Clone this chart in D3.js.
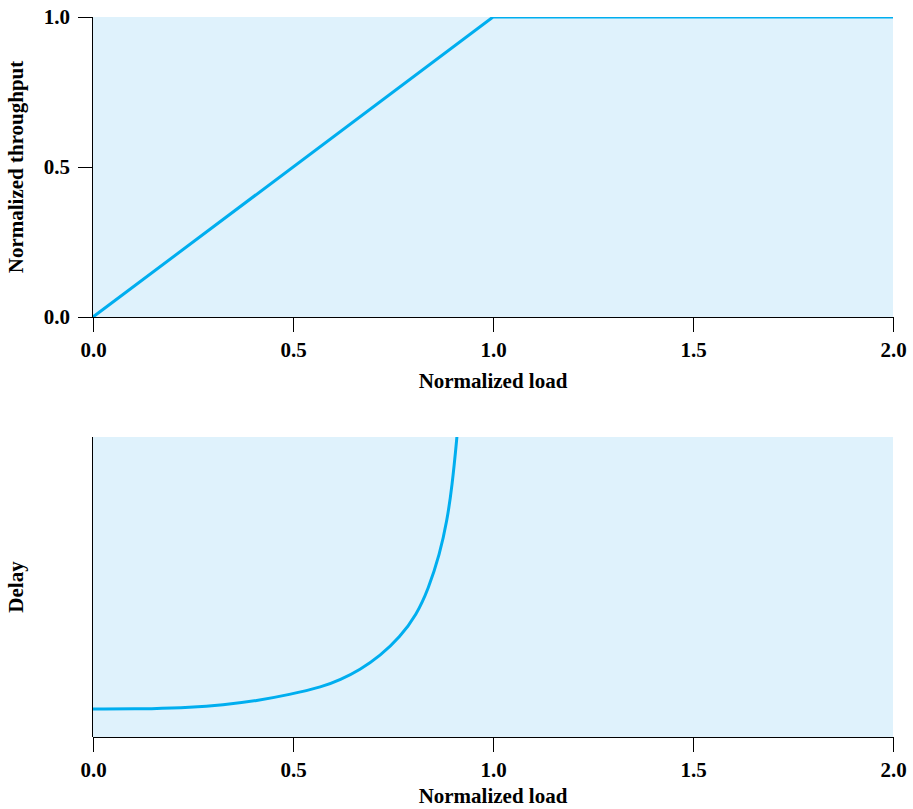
<!DOCTYPE html>
<html>
<head>
<meta charset="utf-8">
<script src="https://cdn.jsdelivr.net/npm/d3@7"></script>
<style>
  html, body { margin: 0; padding: 0; background: #fff; }
  svg { display: block; }
  text { font-family: "Liberation Serif", "Times New Roman", serif; font-weight: bold; fill: #000; }
</style>
</head>
<body>
<svg id="chart" width="913" height="809"></svg>
<script>
// ---- data ----
const xTicks = [0, 0.5, 1.0, 1.5, 2.0];
const throughputTicks = [0, 0.5, 1.0];
const throughputLoad = [0, 1.0, 2.0];
const throughputValue = [0, 1.0, 1.0];
const delayLoad = [0, 0.16, 0.24, 0.325, 0.41, 0.49, 0.575, 0.6175, 0.6675, 0.7175, 0.7675, 0.809, 0.838, 0.867, 0.885, 0.8975, 0.91, 0.915];
const delayValue = [0.93, 0.94, 0.98, 1.07, 1.21, 1.41, 1.68, 1.9, 2.24, 2.7, 3.33, 4.08, 4.92, 6.1, 7.2, 8.33, 10.0, 10.8];

const svg = d3.select("#chart");
const left = 93, right = 893;
const fontSize = 21;
const fill = "#dff2fc";
const lineColor = "#00aeef";

function panel(top, bottom, cfg) {
  const g = svg.append("g");
  const x = d3.scaleLinear().domain([0, 2]).range([left, right]);
  const y = d3.scaleLinear().domain(cfg.yDomain).range([bottom, top]);

  g.append("rect").attr("x", left).attr("y", top)
    .attr("width", right - left).attr("height", bottom - top).attr("fill", fill);

  const clipId = "clip" + top;
  svg.append("clipPath").attr("id", clipId).append("rect")
    .attr("x", left).attr("y", top).attr("width", right - left).attr("height", bottom - top);

  const pts = cfg.xs.map((d, i) => [d, cfg.ys[i]]);
  g.append("path").datum(pts)
    .attr("clip-path", `url(#${clipId})`)
    .attr("fill", "none").attr("stroke", lineColor).attr("stroke-width", 3)
    .attr("stroke-linejoin", "round")
    .attr("d", d3.line().x(d => x(d[0])).y(d => y(d[1])).curve(cfg.curve));

  const xAxis = g.append("g").attr("transform", `translate(0,${bottom})`)
    .call(d3.axisBottom(x).tickValues(xTicks).tickFormat(d3.format(".1f")).tickSize(15).tickPadding(10));
  xAxis.select(".domain").attr("d", `M${left},0.5H${right}`).attr("stroke", "#000").attr("stroke-width", 1.2);
  xAxis.selectAll(".tick line").attr("stroke", "#000").attr("stroke-width", 1.2);
  xAxis.selectAll(".tick text").attr("font-size", fontSize).attr("font-family", null);

  const yAxis = g.append("g").attr("transform", `translate(${left},0)`)
    .call(d3.axisLeft(y).tickValues(cfg.yTicks).tickFormat(d3.format(".1f")).tickSize(15).tickPadding(8));
  yAxis.select(".domain").attr("d", `M-0.5,${top}V${bottom}`).attr("stroke", "#000").attr("stroke-width", 1.2);
  yAxis.selectAll(".tick line").attr("stroke", "#000").attr("stroke-width", 1.2);
  yAxis.selectAll(".tick text").attr("font-size", fontSize).attr("font-family", null);

  g.append("text").attr("x", (left + right) / 2).attr("y", bottom + cfg.titleOffset)
    .attr("text-anchor", "middle").attr("font-size", fontSize).text("Normalized load");

  g.append("text")
    .attr("transform", `translate(23,${(top + bottom) / 2}) rotate(-90)`)
    .attr("text-anchor", "middle").attr("font-size", fontSize).text(cfg.yLabel);

  svg.selectAll(".domain, .tick line").attr("shape-rendering", "crispEdges");
}

panel(17, 317, {
  yDomain: [0, 1], yTicks: throughputTicks,
  xs: throughputLoad, ys: throughputValue, curve: d3.curveLinear,
  yLabel: "Normalized throughput", titleOffset: 71
});

panel(437, 737, {
  yDomain: [0, 10], yTicks: [],
  xs: delayLoad, ys: delayValue, curve: d3.curveBasis,
  yLabel: "Delay", titleOffset: 66
});
</script>
</body>
</html>
